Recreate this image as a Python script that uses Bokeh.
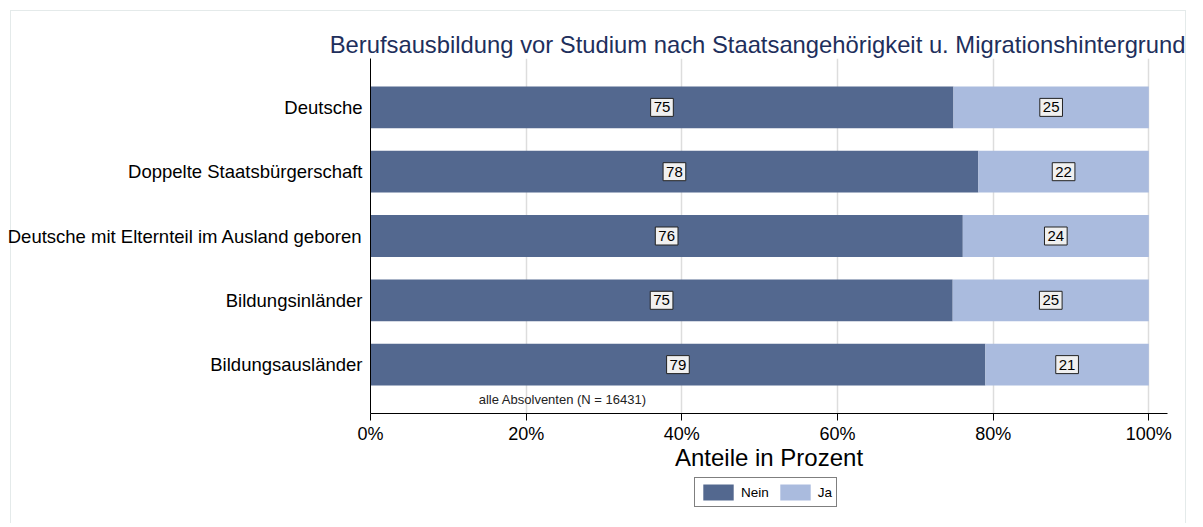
from bokeh.plotting import figure
from bokeh.layouts import column
from bokeh.models import (ColumnDataSource, Range1d, FixedTicker, Label,
                          Legend, LegendItem)
from bokeh.embed import file_html
from bokeh.resources import INLINE

# ---------------- data ----------------
categories = ["Deutsche",
              "Doppelte Staatsbürgerschaft",
              "Deutsche mit Elternteil im Ausland geboren",
              "Bildungsinländer",
              "Bildungsausländer"]
nein = [74.9, 78.1, 76.1, 74.8, 79.0]
ja = [25.1, 21.9, 23.9, 25.2, 21.0]
series_names = ["Nein", "Ja"]
x_ticks = [0, 20, 40, 60, 80, 100]
x_tick_labels = ["0%", "20%", "40%", "60%", "80%", "100%"]
title_text = "Berufsausbildung vor Studium nach Staatsangehörigkeit u. Migrationshintergrund"
x_axis_label = "Anteile in Prozent"
note_text = "alle Absolventen (N = 16431)"

# ---------------- styles ----------------
FONT = "Liberation Sans"
C_NEIN = "#53688f"
C_JA = "#aabbde"
FRAME = "#e4eaea"

n = len(categories)
ypos = [n - i for i in range(n)]
nein_mid = [v / 2 for v in nein]
ja_mid = [a + b / 2 for a, b in zip(nein, ja)]
src = ColumnDataSource(dict(y=ypos, nein=nein, ja=ja))

p = figure(width=1195, height=473, output_backend="svg", toolbar_location=None,
           x_range=Range1d(0, 102.4), y_range=Range1d(0.24, n + 0.76),
           min_border_left=370, min_border_right=28, min_border_top=58,
           min_border_bottom=60)
p.outline_line_color = None
p.background_fill_color = "white"
p.border_fill_color = None

# title
p.title.text = title_text
p.title.align = "right"
p.title.offset = -18
p.title.text_font = FONT
p.title.text_font_size = "23.8px"
p.title.text_font_style = "normal"
p.title.text_color = "#1e2f5c"
p.title.standoff = 2

# bars
rs = p.hbar_stack(["nein", "ja"], y="y", height=0.65, color=[C_NEIN, C_JA],
                  line_color=None, source=src)

# value boxes (one label per bar segment, positioned from the data)
def box_label(x, y, txt):
    kw = dict(x=x, y=y, text=txt, text_align="center", text_baseline="middle",
              text_font=FONT, text_font_size="15px", text_color="black",
              background_fill_color="#f0f0f0", border_line_color="#222222",
              border_line_width=1)
    try:
        return Label(**kw, padding=(3, 4))
    except Exception:
        return Label(**kw)

for i in range(n):
    p.add_layout(box_label(nein_mid[i], ypos[i], str(round(nein[i]))))
    p.add_layout(box_label(ja_mid[i], ypos[i], str(round(ja[i]))))

# note
p.add_layout(Label(x=24.7, y=0.457, text=note_text, text_align="center",
                   text_baseline="middle", text_font=FONT,
                   text_font_size="13px", text_color="#222222"))

# axes
xa = p.xaxis[0]
xa.ticker = FixedTicker(ticks=x_ticks)
xa.major_label_overrides = {t: l for t, l in zip(x_ticks, x_tick_labels)}
xa.axis_label = x_axis_label
xa.axis_label_text_font = FONT
xa.axis_label_text_font_size = "24px"
xa.axis_label_text_font_style = "normal"
xa.axis_label_text_color = "black"
xa.axis_label_standoff = -3
xa.major_label_text_font = FONT
xa.major_label_text_font_size = "18px"
xa.major_label_text_color = "black"
xa.major_label_standoff = 3
xa.major_tick_in = 0
xa.major_tick_out = 7
xa.minor_tick_out = 0
xa.minor_tick_in = 0
xa.axis_line_color = "black"
xa.major_tick_line_color = "black"

ya = p.yaxis[0]
ya.ticker = FixedTicker(ticks=ypos)
ya.major_label_overrides = {y: c for y, c in zip(ypos, categories)}
ya.major_label_text_font = FONT
ya.major_label_text_font_size = "18.5px"
ya.major_label_text_color = "black"
ya.major_label_standoff = 8
ya.major_tick_out = 0
ya.major_tick_in = 0
ya.minor_tick_out = 0
ya.minor_tick_in = 0
ya.axis_line_color = "black"

p.xgrid.ticker = FixedTicker(ticks=x_ticks)
p.xgrid.grid_line_color = "#dddddd"
p.xgrid.grid_line_width = 1.5
p.ygrid.visible = False

# legend strip (separate small figure under the chart; frames are aligned)
lg = figure(width=1195, height=50, output_backend="svg", toolbar_location=None,
            x_range=Range1d(0, 1), y_range=Range1d(0, 1),
            x_axis_location=None, y_axis_location=None,
            min_border=0, min_border_left=0, min_border_right=0,
            min_border_top=0, min_border_bottom=0)
lg.outline_line_color = None
lg.background_fill_color = None
lg.border_fill_color = None
lg.grid.visible = False
# legend-only renderers: they lie fully outside the visible ranges, only their style is used
swatches = [lg.hbar(y=[-5], left=[-6], right=[-5], height=1, color=c, line_color=None)
            for c in (C_NEIN, C_JA)]
legend = Legend(items=[LegendItem(label=series_names[i], renderers=[swatches[i]]) for i in range(2)],
                orientation="horizontal", location=(324, 16),
                glyph_width=38, glyph_height=20, label_standoff=4, spacing=7,
                padding=4, margin=0, border_line_color="black", border_line_width=1,
                label_text_font=FONT, label_text_font_size="13.5px",
                label_text_color="black", label_height=20, label_width=10,
                background_fill_alpha=1.0)
lg.add_layout(legend)

layout = column(p, lg, spacing=0)
try:
    line = f"linear-gradient({FRAME},{FRAME})"
    layout.styles = {
        "background-color": "white",
        "background-image": f"{line},{line},{line}",
        "background-position": "10px 10px, 10px 10px, 1185px 10px",
        "background-size": "1175px 1px, 1px 600px, 1px 600px",
        "background-repeat": "no-repeat",
    }
except Exception:
    pass

open("out.html", "w").write(file_html(layout, INLINE))
